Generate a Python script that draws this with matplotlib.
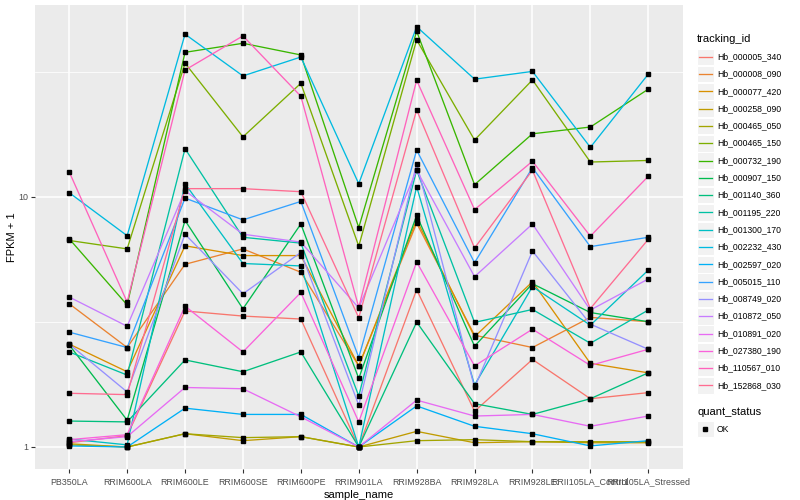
import numpy as np
import matplotlib
matplotlib.use("Agg")
import matplotlib.pyplot as plt
from matplotlib.patches import Rectangle

plt.rcParams['font.family'] = ['Liberation Sans', 'DejaVu Sans']

# samples on the x axis
samples = ['PB350LA', 'RRIM600LA', 'RRIM600LE', 'RRIM600SE', 'RRIM600PE',
           'RRIM901LA', 'RRIM928BA', 'RRIM928LA', 'RRIM928LE',
           'RRII105LA_Control', 'RRII105LA_Stressed']

# FPKM + 1 per gene, one value per sample
hb_000005_340 = [1.04, 1.11, 3.5, 3.34, 3.25, 1.0, 4.26, 1.39, 2.24, 1.56, 1.65]
hb_000008_090 = [3.74, 2.5, 5.38, 6.2, 5.0, 2.11, 7.86, 2.8, 2.5, 3.3, 3.17]
hb_000077_420 = [2.58, 2.0, 6.38, 5.83, 5.83, 2.11, 8.1, 2.76, 4.58, 2.16, 1.98]
hb_000258_090 = [1.03, 1.0, 1.13, 1.06, 1.10, 1.0, 1.155, 1.04, 1.05, 1.04, 1.04]
hb_000465_050 = [1.02, 1.0, 1.13, 1.09, 1.10, 1.0, 1.06, 1.07, 1.05, 1.05, 1.05]
hb_000465_150 = [6.7, 6.2, 34.3, 17.4, 28.5, 6.36, 42.5, 16.9, 29.4, 13.8, 14.0]
hb_000732_190 = [6.8, 3.7, 37.9, 41.2, 37.0, 7.55, 46.0, 11.2, 17.9, 19.05, 27.0]
hb_000907_150 = [2.56, 1.28, 8.06, 3.57, 7.8, 1.88, 8.45, 2.53, 4.5, 3.45, 3.17]
hb_001140_360 = [1.27, 1.26, 2.23, 2.0, 2.4, 1.0, 3.16, 1.49, 1.35, 1.56, 1.98]
hb_001195_220 = [2.4, 1.94, 15.6, 6.9, 6.54, 1.6, 12.8, 3.15, 3.55, 2.6, 3.53]
hb_001300_170 = [1.076, 1.02, 11.3, 5.42, 5.3, 1.0, 11.0, 1.77, 4.38, 3.07, 5.1]
hb_002232_430 = [10.4, 7.0, 44.8, 30.5, 36.3, 11.3, 48.0, 29.6, 31.8, 15.8, 31.0]
hb_002597_020 = [1.01, 1.0, 1.43, 1.35, 1.35, 1.0, 1.46, 1.21, 1.13, 1.01, 1.06]
hb_005015_110 = [2.88, 2.5, 9.9, 8.1, 9.6, 2.28, 15.4, 5.46, 13.1, 6.33, 6.9]
hb_008749_020 = [2.58, 1.66, 7.1, 4.1, 6.0, 1.47, 13.6, 1.73, 6.08, 3.1, 2.46]
hb_010872_050 = [3.98, 3.04, 10.6, 7.1, 6.6, 3.6, 12.8, 4.8, 7.8, 3.53, 4.7]
hb_010891_020 = [1.05, 1.10, 1.73, 1.71, 1.32, 1.0, 1.54, 1.33, 1.35, 1.21, 1.33]
hb_027380_190 = [1.07, 1.12, 3.66, 2.4, 4.15, 1.26, 5.5, 2.11, 2.96, 2.12, 2.46]
hb_110567_010 = [12.6, 3.8, 32.2, 44.1, 25.3, 3.62, 29.3, 8.9, 13.9, 6.97, 12.1]
hb_152868_030 = [1.64, 1.62, 10.8, 10.8, 10.5, 3.29, 22.3, 6.25, 12.8, 3.58, 6.77]

gene_ids = ['Hb_000005_340', 'Hb_000008_090', 'Hb_000077_420', 'Hb_000258_090',
            'Hb_000465_050', 'Hb_000465_150', 'Hb_000732_190', 'Hb_000907_150',
            'Hb_001140_360', 'Hb_001195_220', 'Hb_001300_170', 'Hb_002232_430',
            'Hb_002597_020', 'Hb_005015_110', 'Hb_008749_020', 'Hb_010872_050',
            'Hb_010891_020', 'Hb_027380_190', 'Hb_110567_010', 'Hb_152868_030']
gene_values = [hb_000005_340, hb_000008_090, hb_000077_420, hb_000258_090,
               hb_000465_050, hb_000465_150, hb_000732_190, hb_000907_150,
               hb_001140_360, hb_001195_220, hb_001300_170, hb_002232_430,
               hb_002597_020, hb_005015_110, hb_008749_020, hb_010872_050,
               hb_010891_020, hb_027380_190, hb_110567_010, hb_152868_030]

# ggplot hue palette for 20 levels
colors = ['#F8766D', '#EA8331', '#D89000', '#C09B00', '#A3A500', '#7CAE00',
          '#39B600', '#00BB4E', '#00BF7D', '#00C1A3', '#00BFC4', '#00BAE0',
          '#00B0F6', '#35A2FF', '#9590FF', '#C77CFF', '#E76BF3', '#FA62DB',
          '#FF62BC', '#FF6C91']

fig = plt.figure(figsize=(8, 5), dpi=100)
ax = fig.add_axes([34.5 / 800, 1 - 469 / 500, (683 - 34.5) / 800, 464 / 500])
ax.set_facecolor('#EBEBEB')

x = np.arange(len(samples))
for vals, col in zip(gene_values, colors):
    ax.plot(x, vals, color=col, lw=0.95, zorder=3)
for vals in gene_values:
    ax.plot(x, vals, ls='none', marker='s', ms=2.3, color='black', zorder=4)

ax.set_yscale('log')
ax.set_ylim(10 ** -0.088, 10 ** 1.768)
ax.set_xlim(-0.6, len(samples) - 0.4)
ax.set_yticks([1, 10])
ax.set_yticklabels(['1', '10'])
ax.set_yticks([10 ** 0.5, 10 ** 1.5], minor=True)
ax.yaxis.set_minor_formatter(plt.NullFormatter())
ax.set_xticks(x)
ax.set_xticklabels(samples)

ax.grid(True, which='major', color='white', lw=1.1, zorder=0)
ax.grid(True, which='minor', axis='y', color='white', lw=0.55, zorder=0)
ax.set_axisbelow(True)
for s in ax.spines.values():
    s.set_visible(False)
ax.tick_params(which='major', length=2.7, width=0.8, color='#333333',
               labelsize=6.4, labelcolor='#4D4D4D')
ax.tick_params(axis='x', pad=3.5)
ax.tick_params(axis='y', pad=2)
ax.tick_params(which='minor', length=0)
ax.set_xlabel('sample_name', fontsize=8, labelpad=2.5)
ax.set_ylabel('FPKM + 1', fontsize=8, labelpad=0.5)

# legend drawn in figure pixel space
lax = fig.add_axes([0, 0, 1, 1], zorder=5)
lax.set_xlim(0, 800)
lax.set_ylim(500, 0)
lax.axis('off')
lax.patch.set_alpha(0)

lax.text(697, 39, 'tracking_id', fontsize=8, va='center', ha='left')
y0, step = 56.7, 17.3
for i, (gid, col) in enumerate(zip(gene_ids, colors)):
    yc = y0 + i * step
    lax.add_patch(Rectangle((697, yc - 8.2), 16.5, 16.5, facecolor='#F2F2F2',
                            edgecolor='white', lw=0.8))
    lax.plot([698.5, 711.5], [yc, yc], color=col, lw=0.95)
    lax.text(717, yc, gid, fontsize=6.2, va='center', ha='left')

lax.text(697, 412, 'quant_status', fontsize=8, va='center', ha='left')
lax.add_patch(Rectangle((697, 429 - 8.2), 16.5, 16.5, facecolor='#F2F2F2',
                        edgecolor='white', lw=0.8))
lax.plot([705], [429], marker='s', ms=2.3, color='black')
lax.text(717, 429, 'OK', fontsize=6.2, va='center', ha='left')

fig.savefig('out.png', dpi=100)
